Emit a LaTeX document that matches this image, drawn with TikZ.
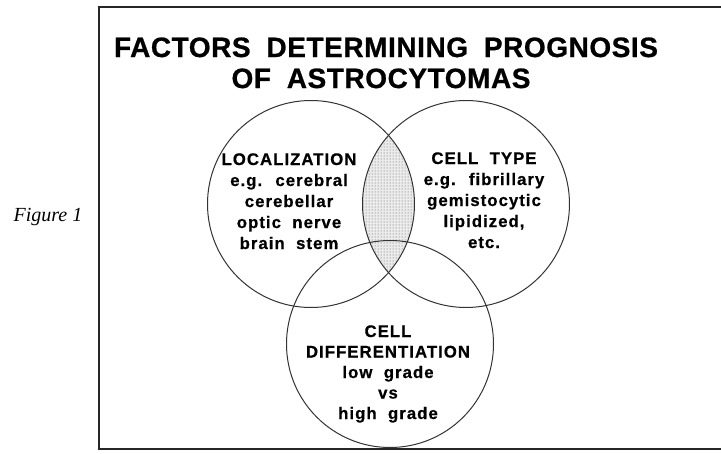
\documentclass[tikz,border=0pt]{standalone}
\usepackage{fontspec}
\setmainfont{Liberation Serif}
\newfontfamily\titlefont{Liberation Sans}[LetterSpace=2,WordSpace=1.9,FakeBold=0.8]
\newfontfamily\letfont{Liberation Sans}[LetterSpace=6,WordSpace=2,FakeBold=0.6]
\usetikzlibrary{patterns}
\tikzset{
  frameline/.style={line width=2pt, black!85},
  ring/.style={circle, draw=black!80, line width=1pt, minimum size=207pt, inner sep=0pt},
  ringtext/.style={anchor=base, align=center, inner sep=0pt,
    font=\letfont\bfseries\fontsize{16.8}{21}\selectfont},
  titletext/.style={anchor=base, inner sep=0pt,
    font=\titlefont\bfseries\fontsize{28}{32}\selectfont},
  figlabel/.style={anchor=base, inner sep=0pt,
    font=\itshape\fontsize{20}{24}\selectfont}
}
\begin{document}
\begin{tikzpicture}[x=1pt,y=-1pt]
\useasboundingbox (0,0) rectangle (721,453);
\fill[white] (0,0) rectangle (721,453);
% frame
\coordinate (ftr) at (721,7);
\coordinate (ftl) at (99,7);
\coordinate (fbl) at (99,449);
\coordinate (fbr) at (721,449);
\draw[frameline] (ftr) -- (ftl) -- (fbl) -- (fbr);
% lens shading
\begin{scope}
  \clip (311,204) circle (103.5pt);
  \fill[black!8] (466,204) circle (103.5pt);
  \fill[pattern=dots, pattern color=black!65] (466,204) circle (103.5pt);
\end{scope}
% circles
\node[ring] (loc) at (311,204) {};
\node[ring] (type) at (466,204) {};
\node[ring] (diff) at (390,344) {};
% title
\node[titletext] (t1) at (386,57) {FACTORS DETERMINING PROGNOSIS};
\node[titletext] (t2) at (381,88) {OF ASTROCYTOMAS};
% circle texts (base anchor = last line's baseline)
\node[ringtext] (loctext) at (289,249) {LOCALIZATION\\e.g. cerebral\\cerebellar\\optic nerve\\brain stem};
\node[ringtext] (typetext) at (484,248) {CELL TYPE\\e.g. fibrillary\\gemistocytic\\lipidized,\\etc.};
\node[ringtext, font=\letfont\bfseries\fontsize{16.8}{20.5}\selectfont] (difftext) at (388,419) {CELL\\DIFFERENTIATION\\low grade\\vs\\high grade};
% figure label
\node[figlabel] (fig) at (48,221) {Figure 1};
\end{tikzpicture}
\end{document}
